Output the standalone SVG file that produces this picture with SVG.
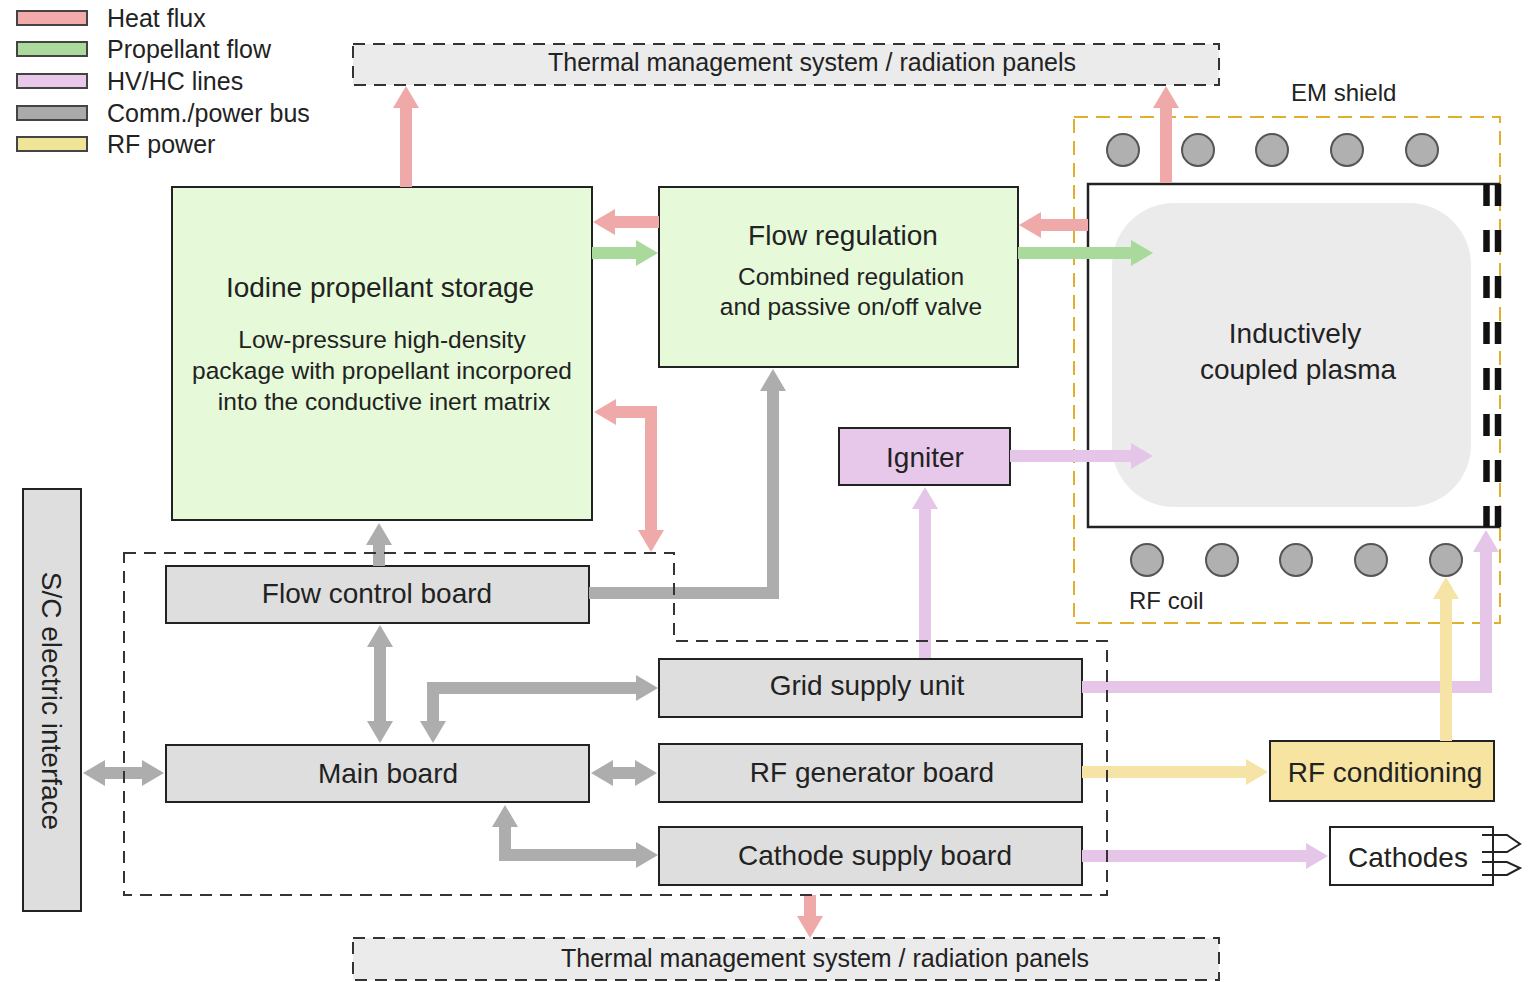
<svg xmlns="http://www.w3.org/2000/svg" width="1532" height="982" viewBox="0 0 1532 982">
<style>
text{font-family:"Liberation Sans",Arial,sans-serif;fill:#222}
.t28{font-size:28px;text-anchor:middle}
.t24{font-size:24.5px;text-anchor:middle}
.lg{font-size:25px}
.box{stroke:#222;stroke-width:2}
.green{fill:#e6fad9}
.grey{fill:#dedede}
.sw{stroke:#444;stroke-width:2}
.c{fill:none;stroke-width:12;stroke-linejoin:miter}
.heat{stroke:#f0a9a9;marker-end:url(#m-heat)}
.prop{stroke:#a9d99b;marker-end:url(#m-prop)}
.hv{stroke:#e6c6e8;marker-end:url(#m-hv)}
.rf{stroke:#f5e4a5;marker-end:url(#m-rf)}
.comm{stroke:#adadad;marker-end:url(#m-comm)}
.coil{fill:#b0b0b0;stroke:#555;stroke-width:2}
</style>
<defs>
<marker id="m-heat" markerUnits="userSpaceOnUse" markerWidth="22" markerHeight="26" viewBox="0 0 22 26" refX="1" refY="13" orient="auto-start-reverse"><path d="M0,0 L22,13 L0,26 z" fill="#f0a9a9"/></marker>
<marker id="m-prop" markerUnits="userSpaceOnUse" markerWidth="22" markerHeight="26" viewBox="0 0 22 26" refX="1" refY="13" orient="auto-start-reverse"><path d="M0,0 L22,13 L0,26 z" fill="#a9d99b"/></marker>
<marker id="m-hv" markerUnits="userSpaceOnUse" markerWidth="22" markerHeight="26" viewBox="0 0 22 26" refX="1" refY="13" orient="auto-start-reverse"><path d="M0,0 L22,13 L0,26 z" fill="#e6c6e8"/></marker>
<marker id="m-rf" markerUnits="userSpaceOnUse" markerWidth="22" markerHeight="26" viewBox="0 0 22 26" refX="1" refY="13" orient="auto-start-reverse"><path d="M0,0 L22,13 L0,26 z" fill="#f5e4a5"/></marker>
<marker id="m-comm" markerUnits="userSpaceOnUse" markerWidth="22" markerHeight="26" viewBox="0 0 22 26" refX="1" refY="13" orient="auto-start-reverse"><path d="M0,0 L22,13 L0,26 z" fill="#adadad"/></marker>
</defs>
<rect width="1532" height="982" fill="#fff"/>

<g id="legend">
<rect class="sw" x="17" y="11" width="70" height="14" fill="#f2aaaa"/>
<rect class="sw" x="17" y="42" width="70" height="14" fill="#acd99c"/>
<rect class="sw" x="17" y="74" width="70" height="14" fill="#e8c9ea"/>
<rect class="sw" x="17" y="106" width="70" height="14" fill="#aaaaaa"/>
<rect class="sw" x="17" y="137" width="70" height="14" fill="#eee596"/>
<text class="lg" x="107" y="27">Heat flux</text>
<text class="lg" x="107" y="58">Propellant flow</text>
<text class="lg" x="107" y="90">HV/HC lines</text>
<text class="lg" x="107" y="122">Comm./power bus</text>
<text class="lg" x="107" y="153">RF power</text>
</g>

<g id="thermal-top">
<rect x="353" y="44" width="866" height="41" fill="#ebebeb" stroke="#333" stroke-width="2" stroke-dasharray="12 8"/>
<text class="lg" x="812" y="71" text-anchor="middle">Thermal management system / radiation panels</text>
</g>
<g id="thermal-bottom">
<rect x="353" y="938" width="866" height="42" fill="#ebebeb" stroke="#333" stroke-width="2" stroke-dasharray="12 8"/>
<text class="lg" x="825" y="967" text-anchor="middle">Thermal management system / radiation panels</text>
</g>

<g id="em-shield">
<rect x="1074" y="117" width="426" height="506" fill="none" stroke="#e0b02c" stroke-width="2" stroke-dasharray="14 8"/>
<text x="1291" y="101" style="font-size:24px">EM shield</text>
</g>

<g id="plasma-chamber">
<rect x="1088" y="184" width="410" height="343" fill="#fff"/>
<path d="M1500,184 H1088 V527 H1500" fill="none" stroke="#222" stroke-width="2.5"/>
<path d="M1486.5,184 V527 M1498,184 V527" fill="none" stroke="#111" stroke-width="6.5" stroke-dasharray="22 24"/>
<rect x="1112" y="203" width="359" height="304" rx="62" fill="#ebebeb"/>
<text class="t28" x="1295" y="343">Inductively</text>
<text class="t28" x="1298" y="379">coupled plasma</text>
</g>

<g id="rf-coil">
<circle class="coil" cx="1123" cy="150" r="16"/>
<circle class="coil" cx="1198" cy="150" r="16"/>
<circle class="coil" cx="1272" cy="150" r="16"/>
<circle class="coil" cx="1347" cy="150" r="16"/>
<circle class="coil" cx="1422" cy="150" r="16"/>
<circle class="coil" cx="1147" cy="560" r="16"/>
<circle class="coil" cx="1222" cy="560" r="16"/>
<circle class="coil" cx="1296" cy="560" r="16"/>
<circle class="coil" cx="1371" cy="560" r="16"/>
<circle class="coil" cx="1446" cy="560" r="16"/>
<text x="1129" y="609" style="font-size:24px">RF coil</text>
</g>

<g id="iodine-storage">
<rect class="box green" x="172" y="187" width="420" height="333"/>
<text class="t28" x="380" y="297">Iodine propellant storage</text>
<text class="t24" x="382" y="348">Low-pressure high-density</text>
<text class="t24" x="382" y="379">package with propellant incorpored</text>
<text class="t24" x="384" y="410">into the conductive inert matrix</text>
</g>

<g id="flow-regulation">
<rect class="box green" x="659" y="187" width="359" height="180"/>
<text class="t28" x="843" y="245">Flow regulation</text>
<text class="t24" x="851" y="285">Combined regulation</text>
<text class="t24" x="851" y="315">and passive on/off valve</text>
</g>

<g id="igniter">
<rect class="box" x="839" y="428" width="171" height="57" fill="#e8c8ea"/>
<text class="t28" x="925" y="467">Igniter</text>
</g>

<g id="sc-interface">
<rect class="box grey" x="23" y="489" width="58" height="422"/>
<text class="t28" transform="translate(52,701) rotate(90)" x="0" y="10">S/C electric interface</text>
</g>

<g id="flow-control-board">
<rect class="box grey" x="166" y="566" width="423" height="57"/>
<text class="t28" x="377" y="603">Flow control board</text>
</g>
<g id="main-board">
<rect class="box grey" x="166" y="745" width="423" height="57"/>
<text class="t28" x="388" y="783">Main board</text>
</g>
<g id="grid-supply-unit">
<rect class="box grey" x="659" y="659" width="423" height="58"/>
<text class="t28" x="867" y="695">Grid supply unit</text>
</g>
<g id="rf-generator-board">
<rect class="box grey" x="659" y="744" width="423" height="58"/>
<text class="t28" x="872" y="782">RF generator board</text>
</g>
<g id="cathode-supply-board">
<rect class="box grey" x="659" y="827" width="423" height="58"/>
<text class="t28" x="875" y="865">Cathode supply board</text>
</g>
<g id="rf-conditioning">
<rect class="box" x="1270" y="741" width="224" height="60" fill="#f6e4a0"/>
<text class="t28" x="1385" y="782">RF conditioning</text>
</g>
<g id="cathodes">
<rect class="box" x="1330" y="827" width="163" height="58" fill="#fff"/>
<text class="t28" x="1408" y="867">Cathodes</text>
<path d="M1482,835 H1507 L1520,844 L1507,852 H1482 M1482,862 H1507 L1520,868 L1507,875 H1482" fill="none" stroke="#222" stroke-width="2"/>
</g>

<g id="connectors">
<path class="c heat" d="M406,187 V107"/>
<path class="c heat" d="M1166,183 V107"/>
<path class="c heat" d="M659,222 H614"/>
<path class="c heat" d="M1088,225 H1040"/>
<path class="c heat" d="M615,412 H651 V531" style="marker-start:url(#m-heat)"/>
<path class="c heat" d="M810,895 V917"/>
<path class="c prop" d="M592,253 H637"/>
<path class="c prop" d="M1018,253 H1132"/>
<path class="c hv" d="M1010,456 H1132"/>
<path class="c hv" d="M925,658 V508"/>
<path class="c hv" d="M1082,687 H1486 V551"/>
<path class="c hv" d="M1082,856 H1307"/>
<path class="c rf" d="M1082,772 H1247"/>
<path class="c rf" d="M1446,741 V598"/>
<path class="c comm" d="M379,566 V544"/>
<path class="c comm" d="M589,593 H773 V390"/>
<path class="c comm" d="M380,646 V722" style="marker-start:url(#m-comm)"/>
<path class="c comm" d="M433,722 V688 H637" style="marker-start:url(#m-comm)"/>
<path class="c comm" d="M104,773 H143" style="marker-start:url(#m-comm)"/>
<path class="c comm" d="M612,773 H636" style="marker-start:url(#m-comm)"/>
<path class="c comm" d="M505,826 V855 H637" style="marker-start:url(#m-comm)"/>
</g>

<g id="electronics-box">
<path d="M124,553 H674 V641 H1107 V895 H124 Z" fill="none" stroke="#333" stroke-width="2" stroke-dasharray="12 8"/>
</g>
</svg>
